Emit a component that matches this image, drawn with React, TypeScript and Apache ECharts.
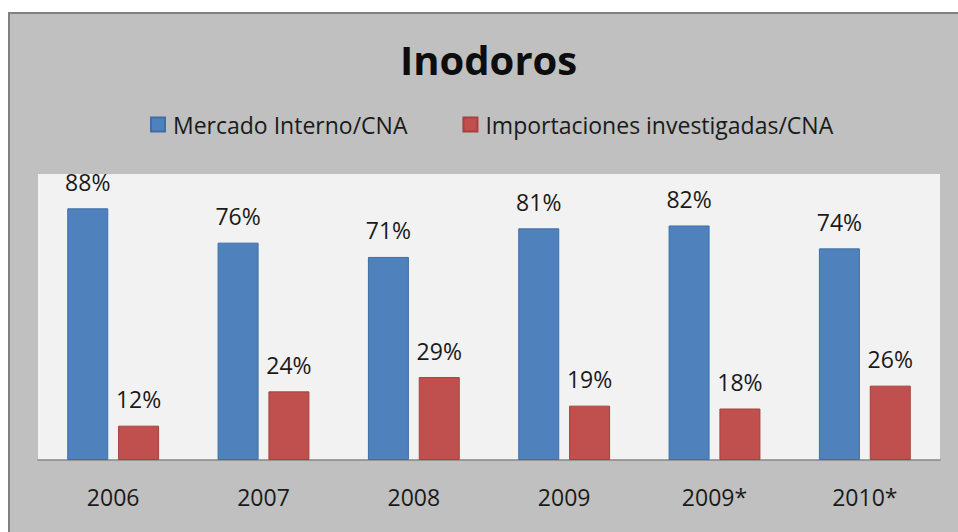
import React, { useEffect, useRef } from "react";
import * as echarts from "echarts";

const categories = ["2006", "2007", "2008", "2009", "2009*", "2010*"];
const mercadoInterno = [88, 76, 71, 81, 82, 74];
const importaciones = [12, 24, 29, 19, 18, 26];
const seriesNames = ["Mercado Interno/CNA", "Importaciones investigadas/CNA"];
const titleText = "Inodoros";

const FONT = "'Open Sans', sans-serif";

export default function App() {
  const ref = useRef<HTMLDivElement>(null);
  useEffect(() => {
    if (!ref.current) return;
    const chart = echarts.init(ref.current, null, { renderer: "svg" });
    const labelStyle = {
      show: true,
      position: "top",
      distance: 15,
      formatter: "{c}%",
      color: "#1a1a1a",
      fontSize: 23,
      fontFamily: FONT,
    };
    chart.setOption({
      animation: false,
      backgroundColor: "#ffffff",
      graphic: [
        {
          type: "rect",
          z: -10,
          silent: true,
          shape: { x: 9, y: 13, width: 960, height: 530 },
          style: { fill: "#c0c0c0", stroke: "#808080", lineWidth: 2 },
        },
      ],
      title: {
        text: titleText,
        left: 395,
        top: 34,
        textStyle: {
          fontFamily: FONT,
          fontWeight: "bold",
          fontSize: 40,
          color: "#0d0d0d",
        },
      },
      legend: {
        top: 108,
        left: 145,
        itemWidth: 14,
        itemHeight: 14,
        itemGap: 55,
        icon: "rect",
        textStyle: { fontFamily: FONT, fontSize: 23, color: "#1a1a1a", padding: [0, 0, 0, 3] },
        data: seriesNames,
      },
      grid: {
        left: 38,
        right: 18,
        top: 174,
        bottom: 72,
        show: true,
        backgroundColor: "#f2f2f2",
        borderColor: "#d8d8d8",
        borderWidth: 0,
      },
      xAxis: {
        type: "category",
        data: categories,
        axisTick: { show: false },
        axisLine: { lineStyle: { color: "#868686", width: 1.5 } },
        axisLabel: { margin: 25, fontSize: 23, fontFamily: FONT, color: "#1a1a1a" },
      },
      yAxis: {
        type: "value",
        min: 0,
        max: 100,
        show: false,
        splitLine: { show: false },
      },
      series: [
        {
          name: seriesNames[0],
          type: "bar",
          data: mercadoInterno,
          barWidth: 41,
          barGap: "24%",
          itemStyle: { color: "#4f81bd", borderColor: "#3f6fa6", borderWidth: 1 },
          label: labelStyle,
        },
        {
          name: seriesNames[1],
          type: "bar",
          data: importaciones,
          barWidth: 41,
          barGap: "24%",
          itemStyle: { color: "#c0504d", borderColor: "#a8403d", borderWidth: 1 },
          label: labelStyle,
        },
      ],
    });
    return () => chart.dispose();
  }, []);
  return (
    <div
      ref={ref}
      style={{ position: "fixed", left: 0, top: 0, width: 958, height: 532 }}
    />
  );
}
